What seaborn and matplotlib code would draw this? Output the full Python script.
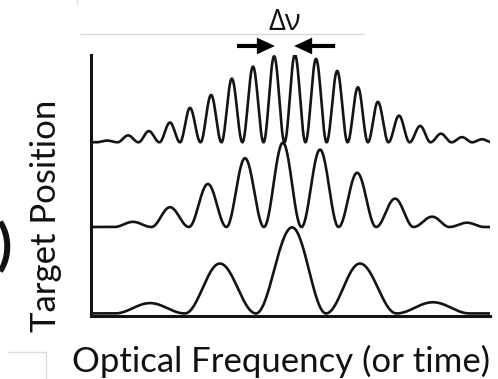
import numpy as np
import pandas as pd
import matplotlib
matplotlib.use("Agg")
import matplotlib.pyplot as plt
from matplotlib.lines import Line2D
import seaborn as sns

# ---- data (arbitrary units) ----
# x: optical frequency across the axis (0-100); y: fringe height (bottom central peak = 1)
trace_names = ["near", "middle", "far"]
target_offsets = [0.03, 1.035, 2.02]          # baseline of each trace (target position)

near_peak_x = [14.8, 32.3, 50.4, 67.4, 85.7]
near_peak_h = [0.12, 0.58, 1.00, 0.58, 0.13]

mid_peak_x = [10.5, 19.8, 29.3, 38.6, 48.1, 57.4, 66.7, 76.2, 85.5, 94.2]
mid_peak_h = [0.06, 0.23, 0.50, 0.80, 0.98, 0.90, 0.63, 0.33, 0.12, 0.05]

far_peak_x = [4.0, 9.3, 14.5, 19.8, 24.8, 30.1, 35.3, 40.6, 45.9, 51.1,
              56.4, 61.7, 66.9, 71.9, 77.2, 82.5, 87.7, 93.0, 98.0]
far_peak_h = [0.02, 0.08, 0.13, 0.23, 0.40, 0.55, 0.74, 0.88, 1.00, 1.02,
              0.97, 0.83, 0.64, 0.47, 0.31, 0.19, 0.10, 0.06, 0.035]

delta_nu_arrow_right = [36.6, 46.1]   # tail, tip
delta_nu_arrow_left = [61.2, 50.9]    # tail, tip
delta_nu_level = 3.14

x_label = "Optical Frequency (or time)"
y_label = "Target Position"
delta_label = "\u0394\u03bd"


def fringe_trace(peak_x, peak_h, offset, xs):
    """Each fringe drawn as a raised-cosine lobe between neighbouring troughs."""
    px = np.asarray(peak_x, float)
    ph = np.asarray(peak_h, float)
    mids = (px[1:] + px[:-1]) / 2
    left = np.concatenate([[px[0] - (px[1] - px[0]) / 2], mids])
    right = np.concatenate([mids, [px[-1] + (px[-1] - px[-2]) / 2]])
    y = np.zeros_like(xs)
    for p, h, l, r in zip(px, ph, left, right):
        m = (xs >= l) & (xs <= p)
        y[m] = h * (1 - np.cos(np.pi * (xs[m] - l) / (p - l))) / 2
        m = (xs > p) & (xs <= r)
        y[m] = h * (1 + np.cos(np.pi * (xs[m] - p) / (r - p))) / 2
    return y + offset


xs = np.linspace(0, 100, 2001)
frames = []
for name, off, pxs, phs in zip(trace_names, target_offsets,
                               [near_peak_x, mid_peak_x, far_peak_x],
                               [near_peak_h, mid_peak_h, far_peak_h]):
    frames.append(pd.DataFrame({"freq": xs,
                                "signal": fringe_trace(pxs, phs, off, xs),
                                "trace": name}))
df = pd.concat(frames, ignore_index=True)

# ---- figure ----
sns.set_style("white")
plt.rcParams["font.family"] = ["Lato", "Open Sans", "DejaVu Sans"]

W, H = 498, 379
fig = plt.figure(figsize=(W / 100, H / 100), dpi=100)
ax = fig.add_axes([91 / W, (H - 316) / H, (490 - 91) / W, (316 - 55) / H])

sns.lineplot(data=df, x="freq", y="signal", hue="trace",
             palette=["#141414"] * 3, estimator=None, sort=False,
             linewidth=1.9, legend=False, ax=ax)

ax.set_xlim(0, 100)
ax.set_ylim(0, 3.035)
ax.set_xticks([])
ax.set_yticks([])
ax.set_xlabel("")
ax.set_ylabel("")
sns.despine(ax=ax)
for s in ["left", "bottom"]:
    ax.spines[s].set_linewidth(2.2)
    ax.spines[s].set_color("#141414")

# Δν arrows
arrow_style = "simple,head_length=1.3,head_width=1.2,tail_width=0.3"
for tail, tip in [delta_nu_arrow_right, delta_nu_arrow_left]:
    ax.annotate("", xy=(tip, delta_nu_level), xytext=(tail, delta_nu_level),
                xycoords="data", textcoords="data", annotation_clip=False,
                arrowprops=dict(arrowstyle=arrow_style, mutation_scale=10,
                                color="black", shrinkA=0, shrinkB=0, lw=0))

fig.text(285 / W, 1 - 22 / H, delta_label, ha="center", va="center",
         fontsize=21, family=["Open Sans", "DejaVu Sans"], color="#111111")

fig.text(281 / W, (H - 372) / H, x_label, ha="center", va="baseline",
         fontsize=25, color="#111111")
fig.text(46 / W, 1 - 216 / H, y_label, ha="center", va="center",
         rotation=90, fontsize=25, color="#111111")

# cropped remnant of a neighbouring panel label
fig.text(12 / W, 1 - 247 / H, ")", ha="right", va="center", fontsize=40,
         fontweight="bold", color="#111111")

# faint lines from the neighbouring figure elements
faint = "#dcdcdc"
fig.add_artist(Line2D([80 / W, 364 / W], [1 - 34 / H] * 2, color=faint, lw=1.0))
fig.add_artist(Line2D([77 / W] * 2, [1, 1 - 4 / H], color=faint, lw=1.0))
fig.add_artist(Line2D([8 / W, 46 / W], [1 - 352 / H] * 2, color=faint, lw=1.0))
fig.add_artist(Line2D([46 / W] * 2, [1 - 352 / H, 0], color=faint, lw=1.0))

fig.savefig("out.png", dpi=100)
